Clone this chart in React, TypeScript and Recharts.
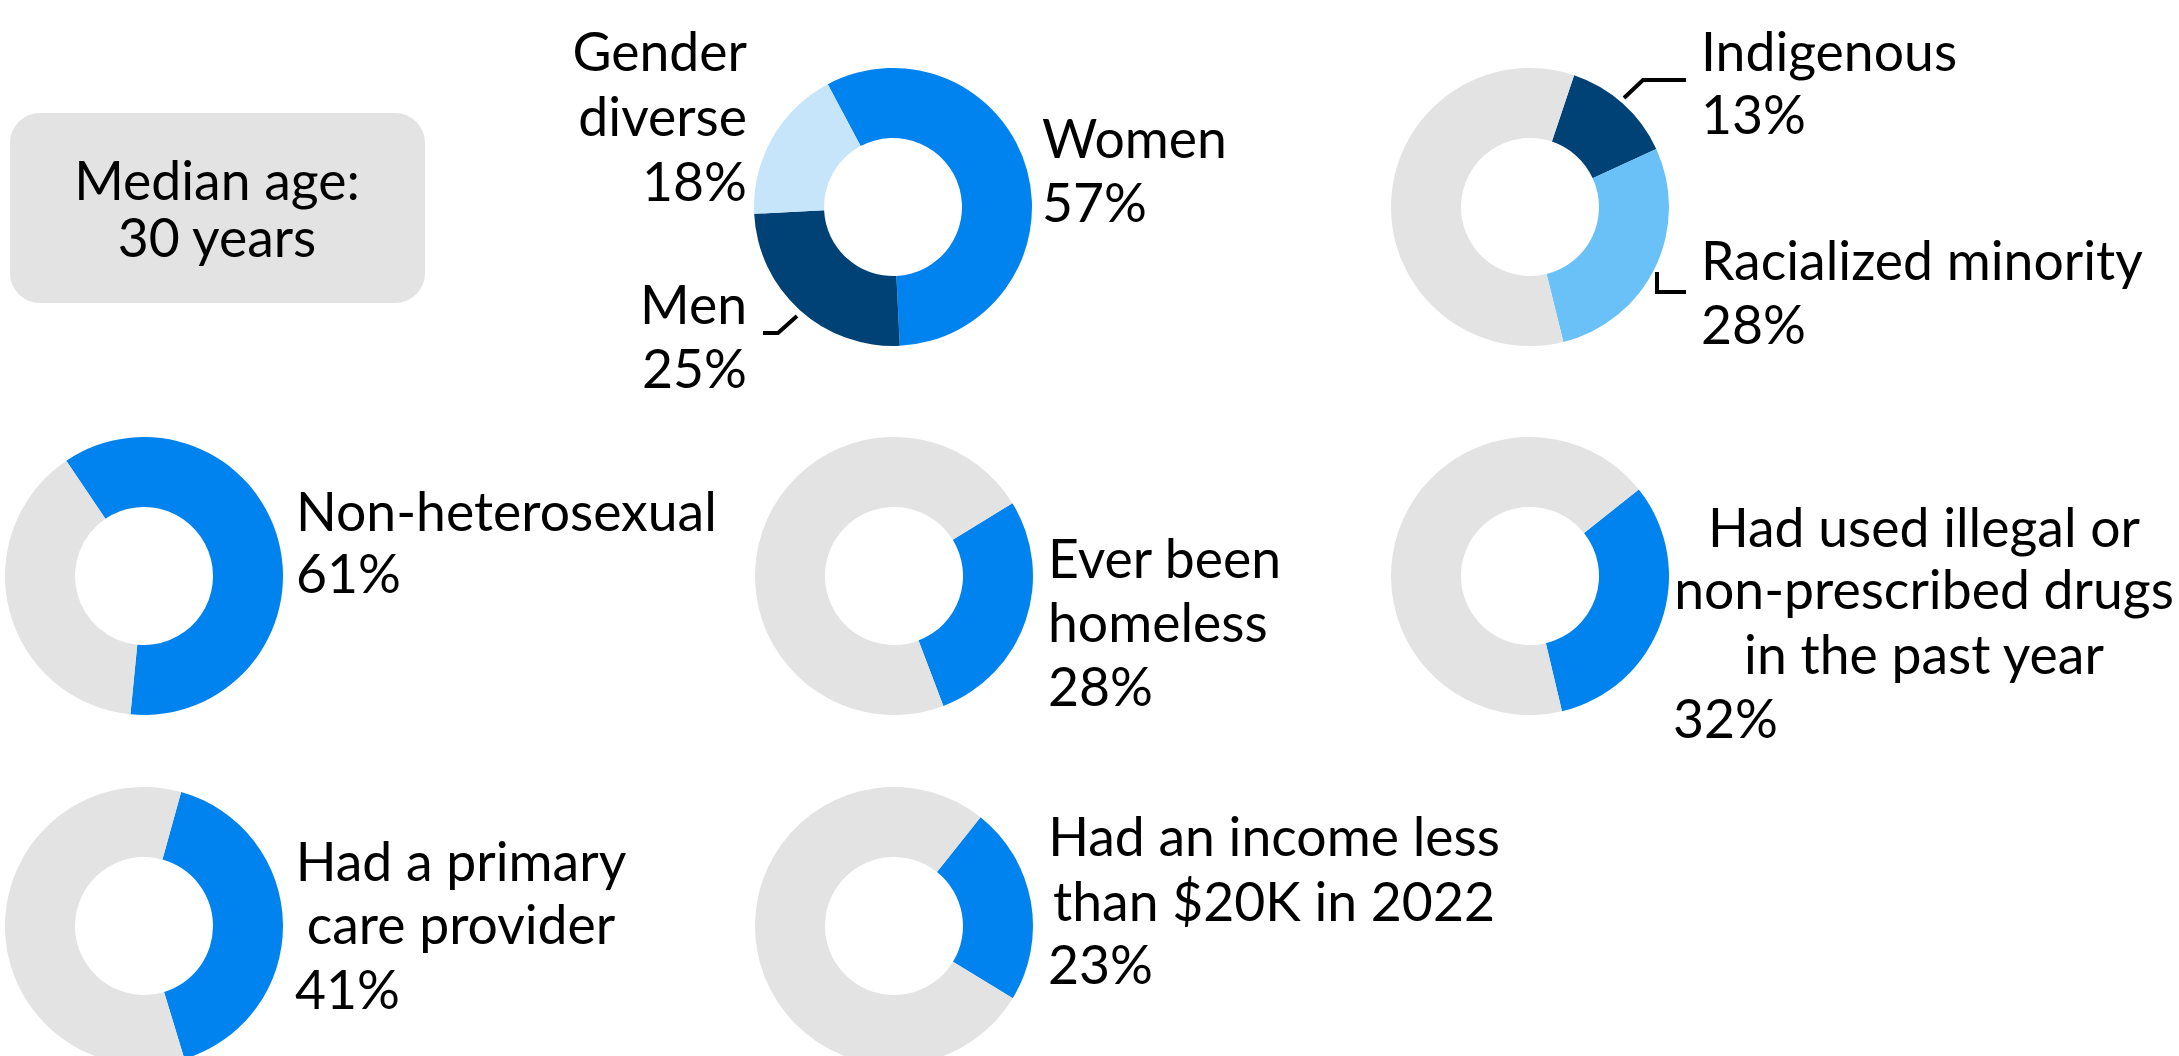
import React from 'react';
import { PieChart, Pie, Cell } from 'recharts';

// ---- Data ----
const genderNames = ['Women', 'Men', 'Gender diverse'];
const genderValues = [57, 25, 18];

const ethnicityNames = ['Indigenous', 'Racialized minority', 'Other'];
const ethnicityValues = [13, 28, 59];

const indicatorNames = [
  'Non-heterosexual',
  'Ever been homeless',
  'Had used illegal or non-prescribed drugs in the past year',
  'Had a primary care provider',
  'Had an income less than $20K in 2022',
];
const indicatorValues = [61, 28, 32, 41, 23];

const medianAgeYears = 30;

// ---- Styles / layout ----
const BLUE = '#0083ef';
const NAVY = '#004176';
const LIGHT = '#c6e5fa';
const SKY = '#6ac1f8';
const GREY = '#e3e3e3';
const W = 2179;
const H = 1056;
const R_OUT = 139;
const R_IN = 69;
const FONT = 'Lato, "Open Sans", sans-serif';
const FS = 53.5;

const genderColors = [BLUE, NAVY, LIGHT];
const ethnicityColors = [NAVY, SKY, GREY];

// donut positions and rotations (clockwise start, degrees from 12 o'clock)
const genderPos = { cx: 893, cy: 207, start: -28 };
const ethnicityPos = { cx: 1530, cy: 207, start: 18.5 };
const indicatorPos = [
  { cx: 144, cy: 576, start: -34 },
  { cx: 894, cy: 576, start: 58.4 },
  { cx: 1530, cy: 576, start: 51.5 },
  { cx: 144, cy: 926, start: 15.5 },
  { cx: 894, cy: 926, start: 38.5 },
];

type Line = { t: string; x: number; y: number; a?: 'start' | 'middle' | 'end' };

const pct = (v: number) => `${v}%`;

const labelLines: Line[] = [
  // gender
  { t: 'Gender', x: 747, y: 71, a: 'end' },
  { t: 'diverse', x: 747, y: 136, a: 'end' },
  { t: pct(genderValues[2]), x: 747, y: 201, a: 'end' },
  { t: genderNames[0], x: 1042, y: 158 },
  { t: pct(genderValues[0]), x: 1042, y: 222 },
  { t: genderNames[1], x: 747, y: 324, a: 'end' },
  { t: pct(genderValues[1]), x: 747, y: 388, a: 'end' },
  // ethnicity
  { t: ethnicityNames[0], x: 1701, y: 71 },
  { t: pct(ethnicityValues[0]), x: 1701, y: 134 },
  { t: ethnicityNames[1], x: 1701, y: 280 },
  { t: pct(ethnicityValues[1]), x: 1701, y: 344 },
  // non-hetero
  { t: 'Non-heterosexual', x: 296, y: 531 },
  { t: pct(indicatorValues[0]), x: 296, y: 593 },
  // homeless
  { t: 'Ever been', x: 1048, y: 578 },
  { t: 'homeless', x: 1048, y: 642 },
  { t: pct(indicatorValues[1]), x: 1048, y: 706 },
  // drugs
  { t: 'Had used illegal or', x: 1924, y: 547, a: 'middle' },
  { t: 'non-prescribed drugs', x: 1924, y: 609, a: 'middle' },
  { t: 'in the past year', x: 1924, y: 674, a: 'middle' },
  { t: pct(indicatorValues[2]), x: 1673, y: 738 },
  // primary care
  { t: 'Had a primary', x: 461, y: 881, a: 'middle' },
  { t: 'care provider', x: 461, y: 944, a: 'middle' },
  { t: pct(indicatorValues[3]), x: 295, y: 1009 },
  // income
  { t: 'Had an income less', x: 1274, y: 856, a: 'middle' },
  { t: 'than $20K in 2022', x: 1274, y: 921, a: 'middle' },
  { t: pct(indicatorValues[4]), x: 1048, y: 984 },
];

const leaders = [
  '763,333 778,333 797,316',
  '1624,98 1643,80 1686,80',
  '1657,272 1657,292 1686,292',
];

function Donut(props: { data: { name: string; value: number }[]; colors: string[]; cx: number; cy: number; start: number; id: string }) {
  const startAngle = 90 - props.start;
  return (
    <Pie
      key={props.id}
      data={props.data}
      dataKey="value"
      nameKey="name"
      cx={props.cx}
      cy={props.cy}
      innerRadius={R_IN}
      outerRadius={R_OUT}
      startAngle={startAngle}
      endAngle={startAngle - 360}
      stroke="none"
      isAnimationActive={false}
    >
      {props.data.map((d, i) => (
        <Cell key={i} fill={props.colors[i]} />
      ))}
    </Pie>
  );
}

export default function App() {
  const genderData = genderNames.map((n, i) => ({ name: n, value: genderValues[i] }));
  const ethnicityData = ethnicityNames.map((n, i) => ({ name: n, value: ethnicityValues[i] }));
  const indicatorData = indicatorNames.map((n, i) => [
    { name: n, value: indicatorValues[i] },
    { name: 'Other', value: 100 - indicatorValues[i] },
  ]);

  return (
    <div style={{ position: 'absolute', left: 0, top: 0, width: W, height: H, background: '#fff', overflow: 'hidden' }}>
      <PieChart width={W} height={H} margin={{ top: 0, right: 0, bottom: 0, left: 0 }}>
        <rect x={10} y={113} width={415} height={190} rx={30} ry={30} fill={GREY} />
        <text x={217} y={200} textAnchor="middle" fontFamily={FONT} fontSize={FS} fill="#000">Median age:</text>
        <text x={217} y={257} textAnchor="middle" fontFamily={FONT} fontSize={FS} fill="#000">{`${medianAgeYears} years`}</text>
        {Donut({ data: genderData, colors: genderColors, ...genderPos, id: 'g' })}
        {Donut({ data: ethnicityData, colors: ethnicityColors, ...ethnicityPos, id: 'e' })}
        {indicatorData.map((d, i) => Donut({ data: d, colors: [BLUE, GREY], ...indicatorPos[i], id: 'i' + i }))}
        {labelLines.map((l, i) => (
          <text key={'t' + i} x={l.x} y={l.y} textAnchor={l.a || 'start'} fontFamily={FONT} fontSize={FS} fill="#000">{l.t}</text>
        ))}
        {leaders.map((p, i) => (
          <polyline key={'l' + i} points={p} fill="none" stroke="#000" strokeWidth={4} />
        ))}
      </PieChart>
    </div>
  );
}
